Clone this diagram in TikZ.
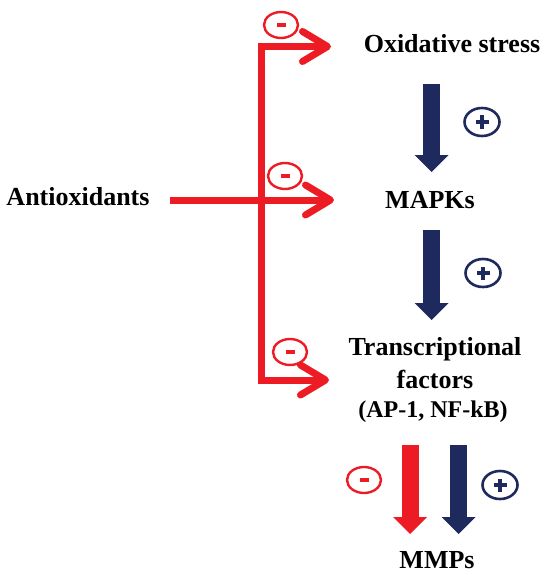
\documentclass[tikz,border=0pt]{standalone}
\usepackage{fontspec}
\setmainfont{Liberation Serif}
\usetikzlibrary{arrows.meta,shapes.geometric}
\definecolor{inhibRed}{HTML}{ED1C24}
\definecolor{promoteNavy}{HTML}{1E2A5E}

\begin{document}
\begin{tikzpicture}[x=1pt,y=-1pt,
  pathlabel/.style={font={\fontsize{26}{30}\selectfont\bfseries}, inner sep=0pt, anchor=base},
  sublabel/.style={font={\fontsize{24}{28}\selectfont\bfseries}, inner sep=0pt, anchor=base},
  redarrow/.style={draw=inhibRed, line width=7pt, -{Straight Barb[length=25pt,width=30pt,round]}},
  blockarrow/.style={line width=17pt, -{Triangle[length=17pt,width=34pt,line width=0pt]}},
  minusmark/.style={ellipse, draw=inhibRed, line width=2.4pt, inner sep=0pt, minimum width=34pt, minimum height=26pt,
    path picture={\fill[inhibRed] (path picture bounding box.center) ++(-4.5,-1.7) rectangle ++(9,3.4);}},
  plusmark/.style={ellipse, draw=promoteNavy, line width=2.6pt, inner sep=0pt, minimum width=35pt, minimum height=28pt,
    path picture={\fill[promoteNavy] (path picture bounding box.center) ++(-6.5,-2) rectangle ++(13,4);
                  \fill[promoteNavy] (path picture bounding box.center) ++(-2,-6.5) rectangle ++(4,13);}}]
\useasboundingbox (0,0) rectangle (550,575);
\node[pathlabel] (anti) at (78,205) {Antioxidants};
\node[pathlabel] (oxid) at (452,53) {Oxidative stress};
\node[pathlabel] (mapk) at (430,208) {MAPKs};
\node[pathlabel] (tf) at (435,355) {Transcriptional};
\node[pathlabel] (tf2) at (435,388) {factors};
\node[sublabel] (tfap) at (433,417) {(AP-1, NF-kB)};
\node[pathlabel] (mmp) at (437,568) {MMPs};
\coordinate (vtop) at (261.5,46.5);
\coordinate (vbot) at (261.5,380);
\coordinate (anti-out) at (170,200);
\coordinate (oxid-in) at (331,46.5);
\coordinate (mapk-in) at (334,200);
\coordinate (tf-in) at (329,380);
\draw[redarrow] (vbot) -- (vtop) -- (oxid-in);
\draw[redarrow] (vtop) -- (vbot) -- (tf-in);
\draw[redarrow] (anti-out) -- (mapk-in);
\coordinate (oxid-out) at (431.5,84);
\coordinate (mapk-top) at (431.5,172);
\coordinate (mapk-out) at (431.5,230);
\coordinate (tf-top) at (431.5,320);
\coordinate (tf-red) at (410,445);
\coordinate (mmp-red) at (410,534);
\coordinate (tf-navy) at (458.5,445);
\coordinate (mmp-navy) at (458.5,534);
\draw[blockarrow, promoteNavy] (oxid-out) -- (mapk-top);
\draw[blockarrow, promoteNavy] (mapk-out) -- (tf-top);
\draw[blockarrow, inhibRed] (tf-red) -- (mmp-red);
\draw[blockarrow, promoteNavy] (tf-navy) -- (mmp-navy);
\node[minusmark] (m-oxid) at (281,25) {};
\node[minusmark] (m-mapk) at (285,176) {};
\node[minusmark] (m-tf) at (290,352) {};
\node[minusmark] (m-mmp) at (364,480) {};
\node[plusmark] (p-mapk) at (482,122) {};
\node[plusmark] (p-tf) at (483,273) {};
\node[plusmark] (p-mmp) at (500,485) {};
\end{tikzpicture}
\end{document}
